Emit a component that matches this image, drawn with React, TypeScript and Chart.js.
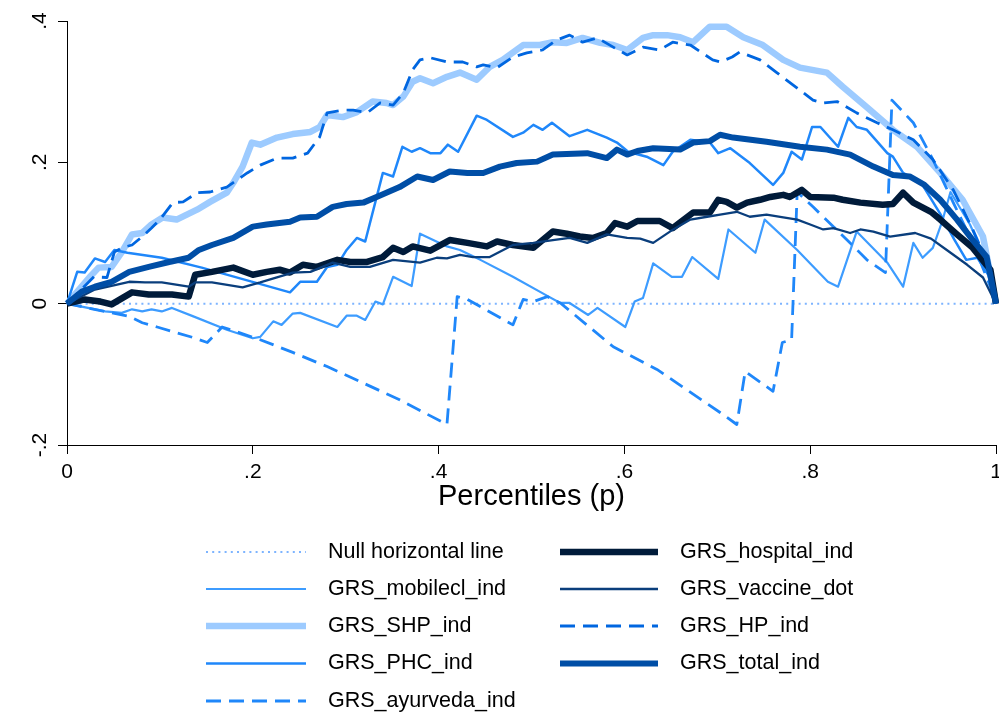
import React, { useEffect, useRef } from "react";
import { Chart, registerables } from "chart.js";

Chart.register(...registerables);

// Percentile positions (p) and generalised concentration values for each series
const nullLine: [number, number][] = [[0, 0], [1, 0]];

const mobileclInd: [number, number][] = [
  [0, 0], [0.041, -0.011], [0.059, -0.013], [0.07, -0.008], [0.081, -0.011], [0.091, -0.008],
  [0.102, -0.011], [0.113, -0.006], [0.136, -0.018], [0.172, -0.037], [0.2, -0.049], [0.208, -0.047],
  [0.222, -0.025], [0.231, -0.03], [0.243, -0.014], [0.251, -0.013], [0.291, -0.033], [0.301, -0.017],
  [0.312, -0.017], [0.321, -0.023], [0.332, 0.003], [0.34, -0.001], [0.351, 0.038], [0.371, 0.025],
  [0.38, 0.099], [0.409, 0.081], [0.423, 0.076], [0.445, 0.062], [0.48, 0.038], [0.517, 0.011],
  [0.531, 0.001], [0.541, 0.001], [0.561, -0.016], [0.571, -0.006], [0.601, -0.033], [0.611, 0.003],
  [0.62, 0.008], [0.631, 0.057], [0.651, 0.038], [0.662, 0.038], [0.673, 0.066], [0.701, 0.035],
  [0.712, 0.105], [0.741, 0.072], [0.751, 0.119], [0.786, 0.076], [0.819, 0.031], [0.83, 0.024],
  [0.85, 0.102], [0.883, 0.058], [0.9, 0.024], [0.911, 0.086], [0.921, 0.065], [0.932, 0.079],
  [0.942, 0.116], [0.951, 0.158], [0.972, 0.112], [0.988, 0.065], [1, 0],
];

const shpInd: [number, number][] = [
  [0, 0], [0.024, 0.037], [0.034, 0.051], [0.048, 0.052], [0.059, 0.073], [0.07, 0.098], [0.081, 0.1],
  [0.091, 0.112], [0.103, 0.122], [0.118, 0.119], [0.14, 0.133], [0.154, 0.144], [0.172, 0.157],
  [0.179, 0.171], [0.189, 0.194], [0.199, 0.228], [0.208, 0.225], [0.226, 0.235], [0.243, 0.24],
  [0.262, 0.243], [0.272, 0.25], [0.28, 0.267], [0.297, 0.264], [0.312, 0.271], [0.329, 0.286],
  [0.344, 0.284], [0.351, 0.281], [0.362, 0.293], [0.372, 0.314], [0.38, 0.319], [0.394, 0.312],
  [0.409, 0.321], [0.423, 0.327], [0.441, 0.317], [0.455, 0.335], [0.469, 0.345], [0.491, 0.366],
  [0.509, 0.366], [0.523, 0.37], [0.538, 0.369], [0.555, 0.376], [0.574, 0.369], [0.588, 0.366],
  [0.603, 0.359], [0.62, 0.376], [0.631, 0.38], [0.646, 0.38], [0.66, 0.377], [0.674, 0.37],
  [0.692, 0.392], [0.71, 0.392], [0.728, 0.377], [0.749, 0.366], [0.771, 0.345], [0.789, 0.334],
  [0.818, 0.327], [0.835, 0.307], [0.861, 0.278], [0.889, 0.246], [0.915, 0.222], [0.94, 0.185],
  [0.964, 0.147], [0.986, 0.095], [1, 0],
];

const phcInd: [number, number][] = [
  [0, 0], [0.011, 0.045], [0.019, 0.044], [0.03, 0.064], [0.041, 0.059], [0.051, 0.076], [0.065, 0.072],
  [0.102, 0.065], [0.145, 0.051], [0.24, 0.016], [0.251, 0.031], [0.269, 0.031], [0.28, 0.052],
  [0.291, 0.055], [0.301, 0.076], [0.312, 0.093], [0.321, 0.088], [0.34, 0.185], [0.351, 0.18],
  [0.361, 0.222], [0.371, 0.215], [0.38, 0.22], [0.391, 0.213], [0.402, 0.213], [0.41, 0.225],
  [0.421, 0.215], [0.441, 0.266], [0.452, 0.26], [0.48, 0.236], [0.491, 0.242], [0.502, 0.253],
  [0.512, 0.246], [0.522, 0.256], [0.541, 0.237], [0.56, 0.246], [0.581, 0.235], [0.592, 0.228],
  [0.604, 0.215], [0.624, 0.208], [0.642, 0.196], [0.652, 0.215], [0.671, 0.232], [0.692, 0.228],
  [0.701, 0.213], [0.714, 0.22], [0.735, 0.199], [0.76, 0.168], [0.771, 0.185], [0.78, 0.215],
  [0.791, 0.204], [0.802, 0.25], [0.811, 0.25], [0.83, 0.222], [0.841, 0.263], [0.85, 0.25],
  [0.861, 0.246], [0.883, 0.213], [0.889, 0.208], [0.9, 0.185], [0.92, 0.17], [0.94, 0.127],
  [0.955, 0.091], [0.968, 0.062], [0.98, 0.065], [0.992, 0.04], [1, 0],
];

const ayurvedaInd: [number, number][] = [
  [0, 0], [0.048, -0.013], [0.067, -0.018], [0.081, -0.027], [0.097, -0.033], [0.136, -0.048],
  [0.151, -0.055], [0.167, -0.033], [0.183, -0.04], [0.208, -0.051], [0.243, -0.069], [0.28, -0.089],
  [0.315, -0.11], [0.358, -0.136], [0.409, -0.171], [0.42, 0.01], [0.431, 0.006], [0.48, -0.03],
  [0.491, 0.006], [0.502, 0.003], [0.517, 0.01], [0.531, 0.001], [0.588, -0.061], [0.635, -0.093],
  [0.703, -0.154], [0.721, -0.171], [0.73, -0.096], [0.76, -0.124], [0.77, -0.055], [0.78, -0.051],
  [0.786, 0.158], [0.803, 0.137], [0.825, 0.109], [0.843, 0.086], [0.861, 0.062], [0.881, 0.044],
  [0.888, 0.288], [0.911, 0.256], [0.932, 0.204], [0.954, 0.143], [0.975, 0.086], [0.994, 0.024], [1, 0],
];

const hospitalInd: [number, number][] = [
  [0, 0], [0.019, 0.006], [0.036, 0.003], [0.048, -0.001], [0.07, 0.016], [0.088, 0.013], [0.113, 0.013],
  [0.131, 0.01], [0.138, 0.041], [0.156, 0.045], [0.179, 0.051], [0.2, 0.041], [0.215, 0.045],
  [0.229, 0.048], [0.24, 0.044], [0.254, 0.055], [0.269, 0.052], [0.291, 0.062], [0.305, 0.059],
  [0.323, 0.059], [0.34, 0.066], [0.351, 0.079], [0.362, 0.073], [0.372, 0.081], [0.391, 0.075],
  [0.412, 0.09], [0.431, 0.086], [0.452, 0.081], [0.463, 0.088], [0.48, 0.083], [0.502, 0.079],
  [0.523, 0.102], [0.538, 0.099], [0.552, 0.095], [0.566, 0.093], [0.581, 0.1], [0.59, 0.114],
  [0.603, 0.109], [0.614, 0.117], [0.638, 0.117], [0.652, 0.107], [0.674, 0.129], [0.692, 0.129],
  [0.701, 0.147], [0.71, 0.144], [0.721, 0.136], [0.732, 0.143], [0.746, 0.147], [0.757, 0.151],
  [0.771, 0.154], [0.778, 0.151], [0.791, 0.161], [0.8, 0.151], [0.825, 0.15], [0.835, 0.147],
  [0.854, 0.143], [0.878, 0.14], [0.889, 0.141], [0.9, 0.157], [0.911, 0.143], [0.93, 0.13],
  [0.94, 0.119], [0.958, 0.098], [0.975, 0.079], [0.994, 0.048], [1, 0],
];

const vaccineDot: [number, number][] = [
  [0, 0], [0.03, 0.02], [0.067, 0.031], [0.084, 0.03], [0.102, 0.03], [0.131, 0.024], [0.138, 0.03],
  [0.156, 0.03], [0.189, 0.023], [0.208, 0.03], [0.243, 0.044], [0.262, 0.045], [0.286, 0.058],
  [0.305, 0.052], [0.326, 0.052], [0.351, 0.062], [0.38, 0.058], [0.398, 0.065], [0.409, 0.064],
  [0.423, 0.069], [0.437, 0.066], [0.455, 0.066], [0.48, 0.083], [0.502, 0.086], [0.523, 0.09],
  [0.541, 0.093], [0.56, 0.086], [0.581, 0.098], [0.603, 0.093], [0.617, 0.092], [0.631, 0.086],
  [0.649, 0.102], [0.671, 0.119], [0.689, 0.123], [0.703, 0.126], [0.721, 0.13], [0.735, 0.123],
  [0.753, 0.126], [0.771, 0.122], [0.786, 0.119], [0.8, 0.112], [0.814, 0.105], [0.825, 0.107],
  [0.843, 0.1], [0.854, 0.105], [0.868, 0.102], [0.886, 0.095], [0.913, 0.1], [0.93, 0.092],
  [0.947, 0.076], [0.969, 0.055], [0.986, 0.037], [1, 0],
];

const hpInd: [number, number][] = [
  [0, 0], [0.029, 0.038], [0.043, 0.037], [0.051, 0.073], [0.059, 0.079], [0.07, 0.083], [0.081, 0.095],
  [0.091, 0.107], [0.1, 0.119], [0.114, 0.143], [0.125, 0.144], [0.14, 0.157], [0.154, 0.158],
  [0.172, 0.165], [0.194, 0.185], [0.208, 0.196], [0.226, 0.206], [0.243, 0.206], [0.259, 0.213],
  [0.272, 0.236], [0.28, 0.27], [0.297, 0.274], [0.308, 0.274], [0.323, 0.27], [0.337, 0.284],
  [0.351, 0.281], [0.362, 0.298], [0.372, 0.331], [0.38, 0.345], [0.391, 0.348], [0.409, 0.342],
  [0.426, 0.342], [0.441, 0.335], [0.448, 0.338], [0.463, 0.334], [0.48, 0.349], [0.495, 0.355],
  [0.512, 0.359], [0.527, 0.373], [0.541, 0.38], [0.555, 0.37], [0.571, 0.376], [0.588, 0.363],
  [0.603, 0.352], [0.62, 0.363], [0.638, 0.359], [0.652, 0.37], [0.671, 0.366], [0.695, 0.345],
  [0.703, 0.342], [0.716, 0.349], [0.724, 0.356], [0.746, 0.345], [0.764, 0.327], [0.786, 0.305],
  [0.803, 0.288], [0.814, 0.284], [0.829, 0.286], [0.85, 0.27], [0.872, 0.256], [0.889, 0.246],
  [0.911, 0.232], [0.932, 0.204], [0.954, 0.161], [0.975, 0.105], [0.994, 0.048], [1, 0],
];

const totalInd: [number, number][] = [
  [0, 0], [0.016, 0.017], [0.03, 0.024], [0.048, 0.031], [0.067, 0.045], [0.088, 0.052], [0.11, 0.059],
  [0.131, 0.065], [0.142, 0.076], [0.156, 0.083], [0.179, 0.093], [0.2, 0.109], [0.215, 0.112],
  [0.24, 0.116], [0.251, 0.122], [0.269, 0.123], [0.286, 0.137], [0.301, 0.141], [0.319, 0.143],
  [0.337, 0.153], [0.358, 0.165], [0.377, 0.18], [0.394, 0.175], [0.412, 0.187], [0.431, 0.185],
  [0.448, 0.185], [0.466, 0.194], [0.484, 0.199], [0.506, 0.201], [0.523, 0.211], [0.56, 0.213],
  [0.581, 0.206], [0.592, 0.218], [0.603, 0.211], [0.614, 0.216], [0.631, 0.22], [0.66, 0.218],
  [0.674, 0.228], [0.692, 0.23], [0.703, 0.239], [0.717, 0.235], [0.753, 0.229], [0.789, 0.222],
  [0.818, 0.218], [0.843, 0.211], [0.868, 0.194], [0.889, 0.182], [0.907, 0.18], [0.923, 0.168],
  [0.94, 0.147], [0.958, 0.119], [0.975, 0.09], [0.99, 0.066], [1, 0],
];

const xTicks = [0, 0.2, 0.4, 0.6, 0.8, 1];
const xTickLabels = ["0", ".2", ".4", ".6", ".8", "1"];
const yTicks = [-0.2, 0, 0.2, 0.4];
const yTickLabels = ["-.2", "0", ".2", ".4"];
const xTitle = "Percentiles (p)";

type SeriesStyle = {
  label: string;
  data: [number, number][];
  color: string;
  width: number;
  dash: number[];
};

const series: SeriesStyle[] = [
  { label: "Null horizontal line", data: nullLine, color: "#7db4ff", width: 2, dash: [2, 4.2] },
  { label: "GRS_mobilecl_ind", data: mobileclInd, color: "#3d9cff", width: 2.2, dash: [] },
  { label: "GRS_SHP_ind", data: shpInd, color: "#9dcbff", width: 6.5, dash: [] },
  { label: "GRS_PHC_ind", data: phcInd, color: "#1f87fa", width: 2.5, dash: [] },
  { label: "GRS_ayurveda_ind", data: ayurvedaInd, color: "#1f87fa", width: 2.8, dash: [15, 8] },
  { label: "GRS_hospital_ind", data: hospitalInd, color: "#001b3a", width: 6.5, dash: [] },
  { label: "GRS_vaccine_dot", data: vaccineDot, color: "#0a3e7c", width: 2.3, dash: [] },
  { label: "GRS_HP_ind", data: hpInd, color: "#0066e0", width: 2.8, dash: [15, 8] },
  { label: "GRS_total_ind", data: totalInd, color: "#004ea6", width: 6, dash: [] },
];

const FONT = '"Liberation Sans", Arial, Helvetica, sans-serif';

const textPlugin = {
  id: "stataText",
  afterDraw(chart: any) {
    const ctx: CanvasRenderingContext2D = chart.ctx;
    const xs = chart.scales.x;
    const ys = chart.scales.y;
    ctx.save();
    ctx.fillStyle = "#000";

    // x tick labels
    ctx.font = `21px ${FONT}`;
    ctx.textAlign = "center";
    ctx.textBaseline = "middle";
    xTicks.forEach((v, i) => {
      ctx.fillText(xTickLabels[i], xs.getPixelForValue(v), 472);
    });

    // y tick labels, rotated to read upwards
    yTicks.forEach((v, i) => {
      ctx.save();
      ctx.translate(40, ys.getPixelForValue(v));
      ctx.rotate(-Math.PI / 2);
      ctx.fillText(yTickLabels[i], 0, 0);
      ctx.restore();
    });

    // x axis title
    ctx.font = `29px ${FONT}`;
    ctx.fillText(xTitle, (chart.chartArea.left + chart.chartArea.right) / 2, 497);

    // legend in two columns
    const rowsY = [552, 589, 626, 663.5, 701];
    const cols = [
      { x0: 206, x1: 306, tx: 328 },
      { x0: 560, x1: 658, tx: 680 },
    ];
    ctx.font = `21.5px ${FONT}`;
    series.forEach((s, i) => {
      const col = i < 5 ? cols[0] : cols[1];
      const y = rowsY[i < 5 ? i : i - 5];
      ctx.save();
      ctx.strokeStyle = s.color;
      ctx.lineWidth = s.width;
      ctx.setLineDash(s.dash);
      ctx.lineCap = "butt";
      ctx.beginPath();
      ctx.moveTo(col.x0, y);
      ctx.lineTo(col.x1, y);
      ctx.stroke();
      ctx.restore();
      ctx.textAlign = "left";
      ctx.textBaseline = "middle";
      ctx.fillStyle = "#000";
      ctx.fillText(s.label, col.tx, y);
    });
    ctx.restore();
  },
};

export default function App() {
  const canvasRef = useRef<HTMLCanvasElement | null>(null);

  useEffect(() => {
    document.body.style.margin = "0";
    const canvas = canvasRef.current;
    if (!canvas) return;
    const n = series.length;
    const chart = new Chart(canvas, {
      type: "line",
      data: {
        datasets: series.map((s, i) => ({
          label: s.label,
          data: s.data.map(([x, y]) => ({ x, y })),
          borderColor: s.color,
          backgroundColor: s.color,
          borderWidth: s.width,
          borderDash: s.dash,
          borderJoinStyle: "round" as const,
          borderCapStyle: "butt" as const,
          pointRadius: 0,
          pointHoverRadius: 0,
          tension: 0,
          fill: false,
          clip: false as any,
          order: n - i,
        })),
      },
      options: {
        animation: false,
        responsive: false,
        devicePixelRatio: 1,
        events: [],
        layout: { padding: { left: 0, right: 3, top: 21, bottom: 251 } },
        plugins: {
          legend: { display: false },
          tooltip: { enabled: false },
          title: { display: false },
        },
        scales: {
          x: {
            type: "linear",
            min: 0,
            max: 1,
            afterFit: (scale: any) => {
              scale.height = 20;
            },
            afterBuildTicks: (scale: any) => {
              scale.ticks = xTicks.map((v) => ({ value: v }));
            },
            ticks: { display: false },
            grid: {
              display: true,
              drawOnChartArea: false,
              drawTicks: true,
              tickLength: 9,
              color: "#000",
              lineWidth: 1,
            },
            border: { display: true, color: "#000", width: 1 },
          },
          y: {
            type: "linear",
            min: -0.2,
            max: 0.4,
            afterFit: (scale: any) => {
              scale.width = 67;
            },
            afterBuildTicks: (scale: any) => {
              scale.ticks = yTicks.map((v) => ({ value: v }));
            },
            ticks: { display: false },
            grid: {
              display: true,
              drawOnChartArea: false,
              drawTicks: true,
              tickLength: 9,
              color: "#000",
              lineWidth: 1,
            },
            border: { display: true, color: "#000", width: 1 },
          },
        },
      },
      plugins: [textPlugin],
    });
    return () => chart.destroy();
  }, []);

  return (
    <div style={{ width: 999, height: 716, background: "#fff" }}>
      <canvas ref={canvasRef} width={999} height={716} />
    </div>
  );
}
